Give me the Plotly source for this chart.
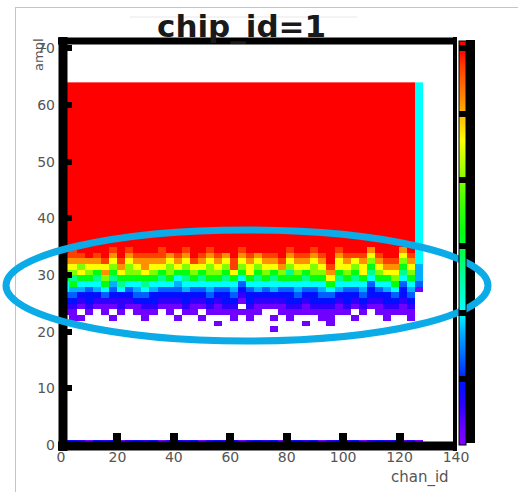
import plotly.graph_objects as go

# ---------------- data ----------------
# ROOT-style 2D histogram: chan_id (x, bins of ~2.85) vs ampl (y, 1-unit bins)
chan_bin_width = 2.852
n_chan_bins = 45
n_ampl_bins = 64

# count value represented by each colour code in the profiles below
level_counts = {'v': 2, 'b': 6, 'B': 9, 'a': 13, 'k': 17, 'c': 20, 's': 26,
                'g': 32, 'l': 40, 'y': 46, 'o': 52, 'R': 57, 'r': 61}

# per-channel-bin profile, starting at ampl = 20 going up; above it = fill
band_start_ampl = 20
band_profiles = [
    "...vbBaccglyoR", "..vvbBakgslyoRR", "..v.vbBkcgyloR", "...vbBBacglyo",
    "....vbBkcsgyoR", "...vvbacgloyR", "..v.vbBaksglyoR", "...vbbBcsgyoR",
    "....vbBacgllyoR", "...vvBakcglyoR", "..vvbBacsgyooR", "...vbBBkcglyoR",
    "....vbBacsgyoRR", "...vvbBacgllyo", "..v.vbBakcgyoR", "...vbBBkcsglyoR",
    "...vvbBacglyR", "..v.vbBacsgyoR", "...vbBakcgllyoR", ".v.vvbBacglyoR",
    "...vbBBacsglyo", "..vvbBakcgyRR", "...v.vbBacglyoR", "..vvbBBacgyyoR",
    "...vvbBkcsglyo", "....vbBacglyoR", "v.v.vbBkcsgyoR", "...vvbBacgloR",
    "..vvbBBacgslyoR", "...vbBakcglyoR", ".v.vvbBacsgyoR", "...vbBBacgllyoR",
    "..vvbBakcglyoR", ".vvvbBacgyoR", "...vvbBkcsgyyoR", "...vbBBacglyoR",
    "..v.vbBacsglyR", "...vbBakcgyyoR", "....vbBBacsglyo", "...vvbBacglyoR",
    "..vvbBBkcgyoR", "...vbBacglyoR", "...vvbBBacsglyo", "..vvbBakcglyoR",
    ".......vakkk",   # last (edge) channel bin
]
band_fill = ['r'] * 44 + ['c']
underflow_row = "bBbvBbBvbBbBvbBbBvbBbBvbBbBvbBbBvbBbBvbBbBvbv"   # ampl = 0 row

x_ticks = [0, 20, 40, 60, 80, 100, 120, 140]
y_ticks = [0, 10, 20, 30, 40, 50, 60, 70]
cbar_ticks = [10, 20, 30, 40, 50, 60]

# ---------------- build grid ----------------
z = [[None] * n_chan_bins for _ in range(n_ampl_bins)]
for ci in range(n_chan_bins):
    prof = band_profiles[ci]
    for k, ch in enumerate(prof):
        if ch in level_counts:
            z[band_start_ampl + k][ci] = level_counts[ch]
    for a in range(band_start_ampl + len(prof), n_ampl_bins):
        z[a][ci] = level_counts[band_fill[ci]]
    if ci < len(underflow_row):
        z[0][ci] = level_counts[underflow_row[ci]]

x_centers = [(i + 0.5) * chan_bin_width for i in range(n_chan_bins)]
y_centers = [a + 0.5 for a in range(n_ampl_bins)]

# ---------------- layout geometry (pixels) ----------------
W, H = 518, 492
PL, PR, PT, PB = 61, 456, 41, 445


def fx(p):
    return (p - PL) / (PR - PL)


def fy(p):
    return (PB - p) / (PB - PT)


colorscale = [
    [0.0, '#8000ff'], [0.033, '#7000ff'], [0.098, '#3000ff'], [0.148, '#0010ff'],
    [0.213, '#0060ff'], [0.279, '#00b0ff'], [0.328, '#00ffff'], [0.426, '#00ff90'],
    [0.525, '#00ff10'], [0.6, '#40ff00'], [0.656, '#80ff00'], [0.754, '#ffff00'],
    [0.852, '#ff9000'], [0.934, '#ff4000'], [0.98, '#ff0000'], [1.0, '#ff0000'],
]

fig = go.Figure(go.Heatmap(
    x=x_centers, y=y_centers, z=z, zmin=0, zmax=61,
    colorscale=colorscale, hoverongaps=False,
    colorbar=dict(
        thickness=7, thicknessmode='pixels', len=1.0, lenmode='fraction',
        x=fx(459), xanchor='left', y=0.5, yanchor='middle',
        xpad=0, ypad=0, outlinewidth=1, outlinecolor='black',
        ticks='inside', ticklen=7, tickwidth=6, tickcolor='black',
        tickmode='array', tickvals=cbar_ticks, showticklabels=False,
    ),
))

tickfont = dict(family='DejaVu Sans', size=14, color='#555555')
fig.update_xaxes(range=[0, 140], tickmode='array', tickvals=x_ticks,
                 showgrid=False, zeroline=False, showline=False,
                 ticks='inside', ticklen=12, tickwidth=8, tickcolor='black',
                 tickfont=tickfont, ticklabelstandoff=2)
fig.update_yaxes(range=[0, 71.3], tickmode='array', tickvals=y_ticks,
                 showgrid=False, zeroline=False, showline=False,
                 ticks='inside', ticklen=11, tickwidth=6, tickcolor='black',
                 tickfont=tickfont, ticklabelstandoff=5)

shapes = []
# thick ROOT-like frame
shapes.append(dict(type='line', xref='paper', yref='paper', x0=fx(63), x1=fx(63),
                   y0=fy(37), y1=fy(451), line=dict(color='black', width=9)))
shapes.append(dict(type='line', xref='paper', yref='paper', x0=fx(58), x1=fx(457),
                   y0=fy(41), y1=fy(41), line=dict(color='black', width=7)))
shapes.append(dict(type='line', xref='paper', yref='paper', x0=fx(58), x1=fx(457),
                   y0=fy(446), y1=fy(446), line=dict(color='black', width=9)))
shapes.append(dict(type='line', xref='paper', yref='paper', x0=fx(455), x1=fx(455),
                   y0=fy(37), y1=fy(451), line=dict(color='black', width=4)))
# thick right border of the palette
shapes.append(dict(type='rect', xref='paper', yref='paper', x0=fx(466), x1=fx(475),
                   y0=fy(40), y1=fy(443), fillcolor='black', line=dict(width=0)))
# slide border lines
shapes.append(dict(type='line', xref='paper', yref='paper', x0=fx(15.5), x1=fx(15.5),
                   y0=fy(7), y1=fy(492), line=dict(color='#c4c4c4', width=1)))
shapes.append(dict(type='line', xref='paper', yref='paper', x0=fx(15), x1=fx(518),
                   y0=fy(7.5), y1=fy(7.5), line=dict(color='#c4c4c4', width=1)))
shapes.append(dict(type='line', xref='paper', yref='paper', x0=fx(130), x1=fx(357),
                   y0=fy(17), y1=fy(17), line=dict(color='#e8e8e8', width=1)))
# highlight ellipse
shapes.append(dict(type='circle', xref='paper', yref='paper', x0=fx(6), x1=fx(488),
                   y0=fy(341), y1=fy(230), line=dict(color='#0aabe6', width=7)))

annotations = [
    dict(text='chip_id=1', xref='paper', yref='paper', x=fx(241), y=fy(26),
         xanchor='center', yanchor='middle', showarrow=False,
         font=dict(family='DejaVu Sans', size=31, color='#1a1a1a', weight='bold')),
    dict(text='ampl', xref='paper', yref='paper', x=fx(38), y=fy(55),
         xanchor='center', yanchor='middle', showarrow=False, textangle=-90,
         font=dict(family='DejaVu Sans', size=13, color='#555555')),
    dict(text='chan_id', xref='paper', yref='paper', x=fx(420), y=fy(477),
         xanchor='center', yanchor='middle', showarrow=False,
         font=dict(family='DejaVu Sans', size=15, color='#555555')),
]

fig.update_layout(
    width=W, height=H, autosize=False,
    margin=dict(l=PL, r=W - PR, t=PT, b=H - PB, pad=0, autoexpand=False),
    plot_bgcolor='white', paper_bgcolor='white',
    shapes=shapes, annotations=annotations, showlegend=False,
)

fig.write_html("out.html")
